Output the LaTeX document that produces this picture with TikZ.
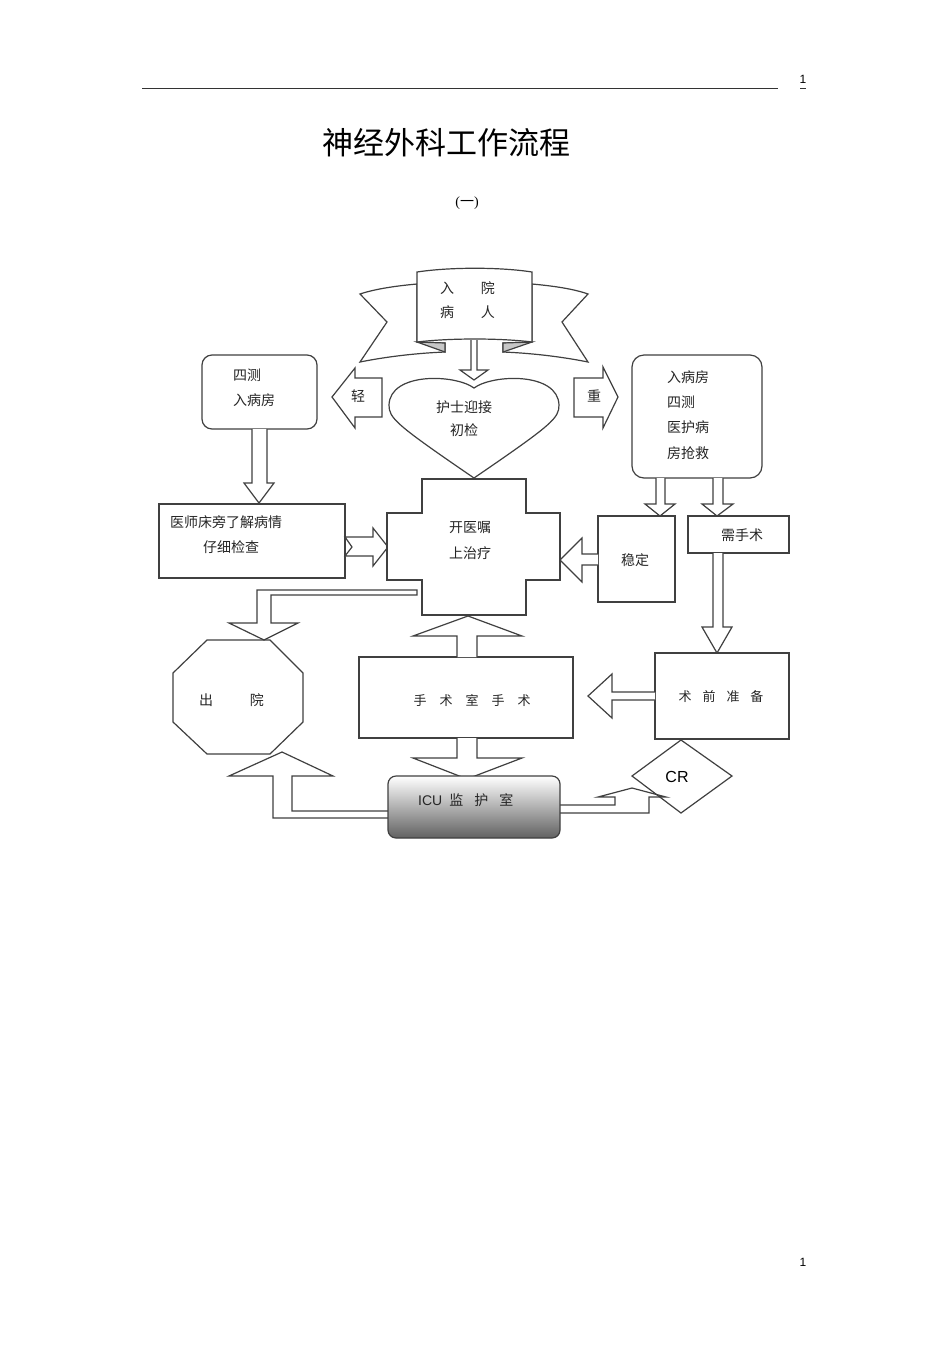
\documentclass[tikz,border=0pt]{standalone}
\usepackage{fontspec}
\setmainfont{Liberation Serif}
\setsansfont{Liberation Sans}
\newfontfamily\cjk{Noto Sans CJK SC}
\newcommand\fsz[1]{\fontsize{#1}{#1}\selectfont}
\begin{document}
\begin{tikzpicture}[x=1pt,y=-1pt,
  ln/.style={draw=black!75, line width=1.2pt, line join=miter},
  box/.style={ln, fill=white},
  lbl/.style={font=\cjk\fsz{14}, inner sep=0pt, text=black!85},
  icubox/.style={ln, rounded corners=8pt, top color=white, middle color=black!10, bottom color=black!62}]
\useasboundingbox (0,0) rectangle (950,1345);
\fill[white] (0,0) rectangle (950,1345);
% header
\draw[black!80, line width=0.8pt] (142,88) -- (778,88);
\draw[black!80, line width=0.8pt] (800,88) -- (806,88);
\node[font=\sffamily\fsz{12}, inner sep=0pt] (pgtop) at (803,79) {1};
\node[font=\sffamily\fsz{12}, inner sep=0pt] (pgbot) at (803,1262) {1};
\node[font=\cjk\fsz{31}, inner sep=0pt] (title) at (446,143) {神经外科工作流程};
\node[font=\fsz{14}, inner sep=0pt] (sub) at (467,203) {({\cjk 一})};

% banner
\draw[box] (417,284) .. controls (395,286) and (375,289) .. (360,294) -- (387,322) -- (360,362)
  .. controls (390,356) and (420,353) .. (445,352) -- (445,343) -- (417,342) -- cycle;
\draw[box] (532,284) .. controls (554,286) and (574,289) .. (588,294) -- (562,322) -- (588,362)
  .. controls (558,356) and (528,353) .. (503,352) -- (503,343) -- (532,342) -- cycle;
\draw[ln, fill=black!22] (417,342) -- (445,352) -- (445,343) -- cycle;
\draw[ln, fill=black!22] (532,342) -- (503,352) -- (503,343) -- cycle;
\draw[box] (417,272) .. controls (450,267) and (500,267) .. (532,272) -- (532,342)
  .. controls (500,338) and (450,338) .. (417,342) -- cycle;
\node[lbl] (ry) at (467.5,288) {入\hspace{27pt}院};
\node[lbl] (br) at (467.5,312) {病\hspace{27pt}人};
% arrow banner -> heart
\draw[box] (471,340) -- (471,370) -- (460,370) -- (474,380) -- (488,370) -- (477,370) -- (477,340);

% heart
\draw[box] (474,388) .. controls (455,374) and (390,372) .. (389,405)
  .. controls (389,418) and (395,424) .. (474,478)
  .. controls (553,424) and (559,418) .. (559,405)
  .. controls (558,372) and (493,374) .. (474,388) -- cycle;
\node[lbl] (hs1) at (464,407) {护士迎接};
\node[lbl] (hs2) at (464,430) {初检};

% light / heavy arrows
\draw[box] (382,378) -- (355,378) -- (355,368) -- (332,397) -- (355,428) -- (355,417) -- (382,417) -- cycle;
\node[lbl] (qing) at (358,396) {轻};
\draw[box] (574,378) -- (603,378) -- (603,367) -- (618,397) -- (603,428) -- (603,417) -- (574,417) -- cycle;
\node[lbl] (zhong) at (594,396) {重};

% left rounded box
\draw[box, rounded corners=10pt] (202,355) rectangle (317,429);
\node[lbl, anchor=west] (l1) at (233,375) {四测};
\node[lbl, anchor=west] (l2) at (233,400) {入病房};
\draw[box] (252,429) -- (252,483) -- (244,483) -- (259,503) -- (274,483) -- (267,483) -- (267,429);

% doctor box
\draw[box] (159,504) rectangle (345,578);
\node[lbl, anchor=west] (d1) at (170,522) {医师床旁了解病情};
\node[lbl, anchor=west] (d2) at (203,547) {仔细检查};
\draw[box] (345,537) -- (373,537) -- (373,528) -- (388,547) -- (373,566) -- (373,556) -- (345,556) -- (352,547) -- cycle;

% cross
\draw[box] (422,479) -- (526,479) -- (526,513) -- (560,513) -- (560,580) -- (526,580) -- (526,615) -- (422,615) -- (422,580) -- (387,580) -- (387,513) -- (422,513) -- cycle;
\node[lbl] (c1) at (470,528) {开医嘱};
\node[lbl] (c2) at (470,553) {上治疗};

% right rounded box
\draw[box, rounded corners=12pt] (632,355) rectangle (762,478);
\node[lbl, anchor=west] (r1) at (667,377) {入病房};
\node[lbl, anchor=west] (r2) at (667,402) {四测};
\node[lbl, anchor=west] (r3) at (667,427) {医护病};
\node[lbl, anchor=west] (r4) at (667,453) {房抢救};
\draw[box] (656,478) -- (656,504) -- (645,504) -- (660,516) -- (675,504) -- (665,504) -- (665,478);
\draw[box] (713,478) -- (713,504) -- (702,504) -- (717,516) -- (733,504) -- (723,504) -- (723,478);

% stable & need surgery
\draw[box] (598,516) rectangle (675,602);
\node[lbl] (wd) at (635,560) {稳定};
\draw[box] (688,516) rectangle (789,553);
\node[lbl] (xss) at (742,535) {需手术};
\draw[box] (598,554) -- (582,554) -- (582,538) -- (560,560) -- (582,582) -- (582,565) -- (598,565);
\draw[box] (713,553) -- (713,627) -- (702,627) -- (717,653) -- (732,627) -- (723,627) -- (723,553);

% pre-op
\draw[box] (655,653) rectangle (789,739);
\node[lbl, font=\cjk\fsz{13}] (sq) at (721,697) {术\hspace{11pt}前\hspace{11pt}准\hspace{11pt}备};
\draw[box] (655,692) -- (612,692) -- (612,674) -- (588,696) -- (612,718) -- (612,700) -- (655,700);

% CR diamond
\draw[box] (681,740) -- (732,776) -- (681,813) -- (632,776) -- cycle;
\node[font=\sffamily\fsz{16}, inner sep=0pt] (cr) at (677,777) {CR};

% operating room
\draw[box] (359,657) rectangle (573,738);
\node[lbl, font=\cjk\fsz{13}] (ss) at (472,700) {手\hspace{13pt}术\hspace{13pt}室\hspace{13pt}手\hspace{13pt}术};
\draw[box] (457,657) -- (457,636) -- (413,636) -- (468,616) -- (522,636) -- (477,636) -- (477,657);
\draw[box] (457,738) -- (457,758) -- (413,758) -- (467,779) -- (522,758) -- (477,758) -- (477,738);

% discharge octagon
\draw[box] (207,640) -- (270,640) -- (303,673) -- (303,722) -- (270,754) -- (207,754) -- (173,722) -- (173,673) -- cycle;
\node[lbl] (cy) at (231.5,700) {出\hspace{37pt}院};
\draw[box] (417,590) -- (257,590) -- (257,623) -- (229,623) -- (264,640) -- (298,623) -- (271,623) -- (271,595) -- (417,595) -- cycle;

% ICU connectors
\draw[box] (388,811) -- (292,811) -- (292,776) -- (333,776) -- (282,752) -- (229,776) -- (273,776) -- (273,818) -- (388,818);
\draw[ln] (560,805) -- (615,805) -- (615,797) -- (598,797) -- (632,788) -- (666,797) -- (649,797) -- (649,813) -- (560,813);

% ICU box
\draw[icubox] (388,776) rectangle (560,838);
\node[lbl, anchor=west] (icu) at (418,800) {{\sffamily ICU}\hspace{7pt}监\hspace{11pt}护\hspace{11pt}室};
\end{tikzpicture}
\end{document}
